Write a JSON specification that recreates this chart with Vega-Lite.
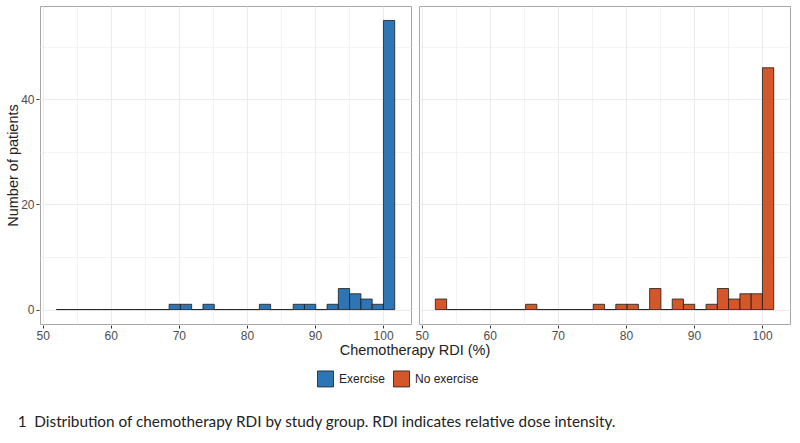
{
  "$schema": "https://vega.github.io/schema/vega-lite/v6.json",
  "background": "white",
  "padding": {"left": 5, "top": 5, "right": 5, "bottom": 5},
  "title": {
    "text": "1\u00a0\u00a0Distribution of chemotherapy RDI by study group. RDI indicates relative dose intensity.",
    "orient": "bottom", "anchor": "start", "frame": "bounds",
    "font": "Lato", "fontSize": 15.3, "fontWeight": "normal", "color": "#222222",
    "offset": 26, "dx": 12
  },
  "data": {"values": [
    {"group": "Exercise", "bin_start": 52.00, "bin_end": 53.66, "count": 0},
    {"group": "Exercise", "bin_start": 53.66, "bin_end": 55.31, "count": 0},
    {"group": "Exercise", "bin_start": 55.31, "bin_end": 56.97, "count": 0},
    {"group": "Exercise", "bin_start": 56.97, "bin_end": 58.63, "count": 0},
    {"group": "Exercise", "bin_start": 58.63, "bin_end": 60.29, "count": 0},
    {"group": "Exercise", "bin_start": 60.29, "bin_end": 61.94, "count": 0},
    {"group": "Exercise", "bin_start": 61.94, "bin_end": 63.60, "count": 0},
    {"group": "Exercise", "bin_start": 63.60, "bin_end": 65.26, "count": 0},
    {"group": "Exercise", "bin_start": 65.26, "bin_end": 66.91, "count": 0},
    {"group": "Exercise", "bin_start": 66.91, "bin_end": 68.57, "count": 0},
    {"group": "Exercise", "bin_start": 68.57, "bin_end": 70.23, "count": 1},
    {"group": "Exercise", "bin_start": 70.23, "bin_end": 71.88, "count": 1},
    {"group": "Exercise", "bin_start": 71.88, "bin_end": 73.54, "count": 0},
    {"group": "Exercise", "bin_start": 73.54, "bin_end": 75.20, "count": 1},
    {"group": "Exercise", "bin_start": 75.20, "bin_end": 76.86, "count": 0},
    {"group": "Exercise", "bin_start": 76.86, "bin_end": 78.51, "count": 0},
    {"group": "Exercise", "bin_start": 78.51, "bin_end": 80.17, "count": 0},
    {"group": "Exercise", "bin_start": 80.17, "bin_end": 81.83, "count": 0},
    {"group": "Exercise", "bin_start": 81.83, "bin_end": 83.48, "count": 1},
    {"group": "Exercise", "bin_start": 83.48, "bin_end": 85.14, "count": 0},
    {"group": "Exercise", "bin_start": 85.14, "bin_end": 86.80, "count": 0},
    {"group": "Exercise", "bin_start": 86.80, "bin_end": 88.45, "count": 1},
    {"group": "Exercise", "bin_start": 88.45, "bin_end": 90.11, "count": 1},
    {"group": "Exercise", "bin_start": 90.11, "bin_end": 91.77, "count": 0},
    {"group": "Exercise", "bin_start": 91.77, "bin_end": 93.43, "count": 1},
    {"group": "Exercise", "bin_start": 93.43, "bin_end": 95.08, "count": 4},
    {"group": "Exercise", "bin_start": 95.08, "bin_end": 96.74, "count": 3},
    {"group": "Exercise", "bin_start": 96.74, "bin_end": 98.40, "count": 2},
    {"group": "Exercise", "bin_start": 98.40, "bin_end": 100.05, "count": 1},
    {"group": "Exercise", "bin_start": 100.05, "bin_end": 101.71, "count": 55},
    {"group": "No exercise", "bin_start": 52.00, "bin_end": 53.66, "count": 2},
    {"group": "No exercise", "bin_start": 53.66, "bin_end": 55.31, "count": 0},
    {"group": "No exercise", "bin_start": 55.31, "bin_end": 56.97, "count": 0},
    {"group": "No exercise", "bin_start": 56.97, "bin_end": 58.63, "count": 0},
    {"group": "No exercise", "bin_start": 58.63, "bin_end": 60.29, "count": 0},
    {"group": "No exercise", "bin_start": 60.29, "bin_end": 61.94, "count": 0},
    {"group": "No exercise", "bin_start": 61.94, "bin_end": 63.60, "count": 0},
    {"group": "No exercise", "bin_start": 63.60, "bin_end": 65.26, "count": 0},
    {"group": "No exercise", "bin_start": 65.26, "bin_end": 66.91, "count": 1},
    {"group": "No exercise", "bin_start": 66.91, "bin_end": 68.57, "count": 0},
    {"group": "No exercise", "bin_start": 68.57, "bin_end": 70.23, "count": 0},
    {"group": "No exercise", "bin_start": 70.23, "bin_end": 71.88, "count": 0},
    {"group": "No exercise", "bin_start": 71.88, "bin_end": 73.54, "count": 0},
    {"group": "No exercise", "bin_start": 73.54, "bin_end": 75.20, "count": 0},
    {"group": "No exercise", "bin_start": 75.20, "bin_end": 76.86, "count": 1},
    {"group": "No exercise", "bin_start": 76.86, "bin_end": 78.51, "count": 0},
    {"group": "No exercise", "bin_start": 78.51, "bin_end": 80.17, "count": 1},
    {"group": "No exercise", "bin_start": 80.17, "bin_end": 81.83, "count": 1},
    {"group": "No exercise", "bin_start": 81.83, "bin_end": 83.48, "count": 0},
    {"group": "No exercise", "bin_start": 83.48, "bin_end": 85.14, "count": 4},
    {"group": "No exercise", "bin_start": 85.14, "bin_end": 86.80, "count": 0},
    {"group": "No exercise", "bin_start": 86.80, "bin_end": 88.45, "count": 2},
    {"group": "No exercise", "bin_start": 88.45, "bin_end": 90.11, "count": 1},
    {"group": "No exercise", "bin_start": 90.11, "bin_end": 91.77, "count": 0},
    {"group": "No exercise", "bin_start": 91.77, "bin_end": 93.43, "count": 1},
    {"group": "No exercise", "bin_start": 93.43, "bin_end": 95.08, "count": 4},
    {"group": "No exercise", "bin_start": 95.08, "bin_end": 96.74, "count": 2},
    {"group": "No exercise", "bin_start": 96.74, "bin_end": 98.40, "count": 3},
    {"group": "No exercise", "bin_start": 98.40, "bin_end": 100.05, "count": 3},
    {"group": "No exercise", "bin_start": 100.05, "bin_end": 101.71, "count": 46}
  ]},
  "facet": {
    "column": {
      "field": "group", "type": "nominal", "sort": ["Exercise", "No exercise"],
      "header": {
        "labels": false,
        "title": "Chemotherapy RDI (%)",
        "titleOrient": "bottom",
        "titleFont": "Liberation Sans", "titleFontSize": 14.5, "titleFontWeight": "normal",
        "titleColor": "#222222", "titlePadding": -7
      }
    }
  },
  "spacing": 6,
  "spec": {
    "width": 371,
    "height": 318,
    "mark": {"type": "bar", "stroke": "#1a1a1a", "strokeWidth": 0.8},
    "encoding": {
      "x": {
        "field": "bin_start", "type": "quantitative",
        "scale": {"domain": [49.6, 104.1], "nice": false, "zero": false},
        "axis": {
          "title": null,
          "values": [50, 55, 60, 65, 70, 75, 80, 85, 90, 95, 100],
          "labelExpr": "datum.value % 10 === 0 ? datum.label : ''",
          "tickOpacity": {"condition": {"test": "datum.value % 10 !== 0", "value": 0}, "value": 1},
          "gridWidth": {"condition": {"test": "datum.value % 10 !== 0", "value": 0.6}, "value": 1}
        }
      },
      "x2": {"field": "bin_end"},
      "y": {
        "field": "count", "type": "quantitative",
        "scale": {"domain": [-2.75, 57.75], "nice": false, "zero": false},
        "axis": {
          "title": "Number of patients",
          "titlePadding": 0,
          "values": [0, 10, 20, 30, 40, 50],
          "labelExpr": "datum.value % 20 === 0 ? datum.label : ''",
          "tickOpacity": {"condition": {"test": "datum.value % 20 !== 0", "value": 0}, "value": 1},
          "gridWidth": {"condition": {"test": "datum.value % 20 !== 0", "value": 0.6}, "value": 1}
        }
      },
      "y2": {"datum": 0},
      "color": {
        "field": "group", "type": "nominal",
        "scale": {"domain": ["Exercise", "No exercise"], "range": ["#2e75b6", "#d4572a"]},
        "legend": {
          "title": null, "orient": "bottom", "direction": "horizontal",
          "symbolType": "square", "symbolSize": 256,
          "symbolStrokeColor": "#1a1a1a", "symbolStrokeWidth": 0.8, "symbolOpacity": 1,
          "labelFont": "Liberation Sans", "labelFontSize": 12, "labelColor": "#222222",
          "labelOffset": 5, "columnPadding": 5, "offset": 12
        }
      }
    }
  },
  "config": {
    "view": {"stroke": "#a6a6a6", "strokeWidth": 1},
    "axis": {
      "domain": false,
      "grid": true, "gridColor": "#ebebeb",
      "tickColor": "#333333", "tickSize": 3,
      "labelFont": "Liberation Sans", "labelFontSize": 12, "labelColor": "#4d4d4d",
      "labelPadding": 2, "labelOverlap": false, "labelFlush": false,
      "titleFont": "Liberation Sans", "titleFontSize": 14.5, "titleFontWeight": "normal",
      "titleColor": "#222222", "titlePadding": 4
    },
    "legend": {"layout": {"bottom": {"anchor": "middle"}}}
  }
}
